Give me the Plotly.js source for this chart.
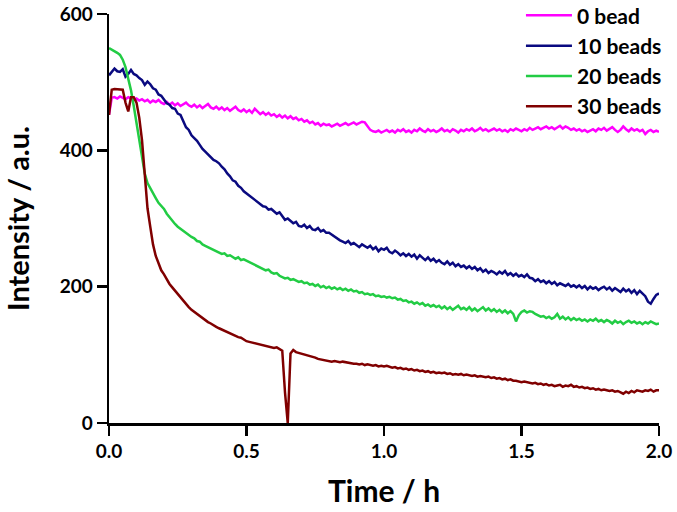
<!DOCTYPE html>
<html>
<head>
<meta charset="utf-8">
<script src="https://cdn.plot.ly/plotly-3.0.1.min.js"></script>
<style>
  html, body { margin: 0; padding: 0; background: #fff; }
  #chart { width: 677px; height: 512px; }
</style>
</head>
<body>
<div id="chart"></div>
<script>
// Sampling grid: time in hours, every 0.01 h from 0 to 2.0
const time = Array.from({ length: 201 }, (_, i) => i / 100);

const seriesNames = ["0 bead", "10 beads", "20 beads", "30 beads"];

const bead0 = [
  452, 477, 478, 476, 479, 477, 475, 478, 476, 474,
  476, 473, 475, 472, 474, 470, 473, 471, 474, 470,
  468, 471, 467, 470, 466, 469, 465, 468, 470, 466,
  464, 467, 463, 466, 462, 465, 468, 463, 461, 464,
  460, 463, 459, 462, 458, 461, 464, 459, 457, 460,
  456, 459, 455, 461, 457, 453, 456, 452, 455, 451,
  453, 449, 452, 448, 451, 447, 450, 446, 448, 444,
  446, 442, 444, 440, 442, 438, 440, 436, 439, 437,
  438, 435, 437, 439, 436, 438, 440, 437, 439, 441,
  438, 440, 442, 441, 436, 430, 428, 427, 429, 426,
  428, 430, 427, 429, 426, 430, 428, 431, 427, 429,
  426, 430, 428, 432, 429, 427, 431, 428, 430, 427,
  429, 432, 428, 430, 427, 431, 429, 426, 430, 428,
  431, 429, 432, 428, 430, 433, 429, 431, 428, 430,
  432, 429, 431, 428, 430, 427, 431, 429, 432, 430,
  428, 431, 429, 433, 430, 432, 434, 431, 433, 435,
  432, 434, 431, 433, 436, 432, 435, 433, 430, 432,
  429, 431, 428, 430, 427, 429, 431, 428, 432, 430,
  433, 429, 431, 434, 430, 427, 430, 435, 431, 428,
  432, 429, 431, 428, 430, 424, 428, 430, 427, 429,
  427
];

const beads10 = [
  510, 515, 520, 516, 515, 519, 508, 512, 518, 512,
  510, 506, 503, 496, 501, 497, 491, 489, 482, 480,
  474, 469, 467, 462, 461, 454, 452, 444, 434, 430,
  422, 418, 414, 408, 402, 398, 394, 391, 386, 384,
  381, 376, 372, 366, 362, 356, 354, 348, 345, 340,
  337, 334, 330, 327, 325, 322, 318, 317, 313, 314,
  311, 307, 309, 303, 298, 300, 297, 293, 295, 289,
  288, 291, 286, 289, 284, 283, 286, 281, 283, 279,
  279, 276, 274, 270, 268, 266, 264, 267, 262, 264,
  261, 258, 262, 259, 257, 260, 255, 258, 252, 256,
  254, 257, 251, 249, 253, 250, 246, 249, 245, 248,
  244, 247, 241, 246, 242, 239, 243, 238, 241, 236,
  239, 235, 233, 237, 232, 235, 230, 233, 229, 231,
  227, 230, 226, 229, 224, 227, 222, 225, 220, 223,
  221, 218, 222, 219, 223, 217, 220, 216, 219, 215,
  217, 214, 218, 213, 212, 208, 211, 207, 209, 205,
  208, 204, 207, 202, 205, 203, 201, 204, 200, 202,
  199, 202, 198, 201, 196, 200, 197, 199, 195, 198,
  200, 196, 199, 194, 198, 195, 192, 197, 193, 196,
  191, 195, 189, 194, 190, 186, 178, 175, 182, 188,
  190
];

const beads20 = [
  550, 548, 546, 543, 540, 533, 522, 505, 488, 465,
  440, 410, 385, 366, 352, 344, 336, 330, 323, 318,
  314, 307, 302, 296, 292, 288, 285, 281, 278, 276,
  273, 271, 267, 266, 262, 260, 258, 255, 254, 251,
  250, 248, 249, 245, 246, 243, 241, 243, 239, 240,
  238, 235, 233, 231, 229, 228, 226, 224, 225, 221,
  219, 220, 216, 214, 212, 213, 210, 211, 209, 207,
  208, 205, 206, 203, 204, 201, 203, 199, 201, 198,
  200, 197, 199, 196, 198, 195, 197, 194, 196, 193,
  194, 191, 192, 189, 190, 188, 189, 186, 187, 185,
  186, 184, 185, 183, 184, 181, 182, 179, 180, 177,
  178, 175, 177, 174, 176, 172, 174, 171, 173, 170,
  172, 168, 171, 167, 170, 166, 169, 172, 167, 169,
  166, 170, 165, 168, 164, 167, 170, 165, 168, 164,
  167, 163, 166, 162, 165, 161, 164, 160, 149, 158,
  163, 165, 162, 164, 163, 160, 158, 156, 157, 154,
  156, 153, 155, 160, 153, 156, 152, 155, 151, 154,
  151, 153, 150, 152, 149, 152, 150, 153, 149, 151,
  148, 151, 149, 146, 150, 147, 149, 145, 148, 150,
  147, 149, 146, 148, 145, 148, 146, 149, 147, 145,
  146
];

const beads30 = [
  452, 489, 490, 490, 490, 489, 470, 457, 478, 478,
  470, 448, 415, 360, 315, 288, 262, 245, 233, 224,
  218, 210, 204, 199, 194, 189, 184, 179, 175, 170,
  166, 163, 159, 157, 153, 151, 148, 146, 143, 141,
  139, 137, 135, 134, 131, 130, 128, 126, 125, 122,
  120, 119, 118, 117, 116, 115, 115, 113, 112, 112,
  110, 111, 108, 106, 45, 0, 102, 107, 104, 103,
  102, 101, 99, 98, 97, 96, 94, 93, 92, 92,
  91, 90, 91, 90, 89, 90, 89, 88, 88, 87,
  87, 86, 87, 85, 86, 85, 84, 85, 83, 84,
  83, 84, 82, 81, 82, 80, 81, 79, 80, 78,
  79, 77, 78, 76, 77, 75, 76, 74, 75, 73,
  74, 73, 74, 72, 73, 71, 72, 71, 72, 70,
  71, 70, 69, 70, 68, 69, 68, 67, 68, 66,
  67, 65, 66, 64, 65, 63, 64, 62, 62, 61,
  60, 61, 60, 59, 58, 59, 57, 58, 56, 57,
  55, 56, 54, 55, 56, 53, 55, 54, 56, 53,
  54, 52, 53, 51, 52, 50, 51, 49, 50, 48,
  49, 48, 47, 48, 46, 47, 45, 43, 46, 44,
  47, 45, 48, 47, 46, 48, 47, 49, 46, 48,
  48
];

const xTickVals = [0, 0.5, 1, 1.5, 2];
const xTickText = ["0.0", "0.5", "1.0", "1.5", "2.0"];
const yTickVals = [0, 200, 400, 600];

const colors = ["#FF00FF", "#0A0A80", "#22CC44", "#800000"];
const allSeries = [bead0, beads10, beads20, beads30];

const FONT = "Lato, Open Sans, sans-serif";

const traces = allSeries.map((ys, i) => ({
  x: time,
  y: ys,
  type: "scatter",
  mode: "lines",
  name: seriesNames[i],
  line: { color: colors[i], width: 2.5 }
}));

const layout = {
  width: 677,
  height: 512,
  margin: { l: 109, r: 18, t: 14, b: 89, autoexpand: false },
  paper_bgcolor: "#ffffff",
  plot_bgcolor: "#ffffff",
  showlegend: true,
  legend: {
    x: 0.749, y: 1.046, xanchor: "left", yanchor: "top",
    bgcolor: "rgba(0,0,0,0)",
    font: { family: FONT, size: 21, color: "#000", weight: "bold" },
    itemwidth: 46,
    tracegroupgap: 0
  },
  xaxis: {
    range: [0, 2],
    tickvals: xTickVals,
    ticktext: xTickText,
    ticks: "outside", ticklen: 10, tickwidth: 2.5, tickcolor: "#000",
    showline: true, linecolor: "#000", linewidth: 2.5,
    showgrid: false, zeroline: false,
    tickfont: { family: FONT, size: 19, color: "#000", weight: "bold" },
    title: { text: "Time / h", font: { family: FONT, size: 30, color: "#000", weight: "bold" }, standoff: 20 }
  },
  yaxis: {
    range: [0, 600],
    tickvals: yTickVals,
    ticks: "outside", ticklen: 10, tickwidth: 2.5, tickcolor: "#000",
    showline: true, linecolor: "#000", linewidth: 2.5,
    showgrid: false, zeroline: false,
    tickfont: { family: FONT, size: 19, color: "#000", weight: "bold" },
    title: { text: "Intensity / a.u.", font: { family: FONT, size: 29, color: "#000", weight: "bold" }, standoff: 24 }
  }
};

Plotly.newPlot("chart", traces, layout, { staticPlot: true, displayModeBar: false });
</script>
</body>
</html>
